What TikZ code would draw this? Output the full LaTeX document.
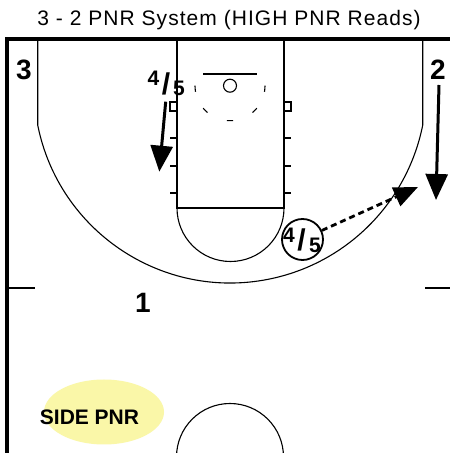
\documentclass[tikz,border=0pt]{standalone}
\usepackage{fontspec}
\setmainfont{Liberation Sans}
\newfontfamily\titlefont[LetterSpace=5]{Liberation Sans}
\usetikzlibrary{arrows.meta,shapes.geometric}
\definecolor{padyellow}{HTML}{FAF7A8}
\begin{document}
\begin{tikzpicture}[x=1pt,y=1pt,
  court/.style={line width=1.1pt},
  edge/.style={line width=3.6pt},
  player/.style={font=\fontsize{28}{28}\selectfont\bfseries, inner sep=0pt},
  small/.style={font=\fontsize{21}{21}\selectfont\bfseries, inner sep=0pt},
  slash/.style={font=\fontsize{30}{30}\selectfont\bfseries, inner sep=0pt},
  move/.style={line width=3pt, -{Triangle[length=26pt,width=22pt]}},
  screen/.style={line width=2.8pt, dash pattern=on 6pt off 4pt, -{Triangle[length=24pt,width=20pt]}},
]
\useasboundingbox (0,0) rectangle (450,453);
\clip (0,0) rectangle (450,453);
\fill[white] (0,0) rectangle (450,453);

% title
\node (title) at (229,433) {\titlefont\fontsize{21}{23}\selectfont 3 - 2 PNR System (HIGH PNR Reads)};

% court edges
\draw[edge, line join=miter] (7,0) -- (7,414) -- (450,414);

% three point line
\draw[court] (37.7,414) -- (37.7,328)
  arc[start angle=191.25, end angle=348.75, radius=196.3] -- (422.7,414);

% lane
\draw[court] (177,414) -- (177,245) -- (284,245) -- (284,414);
\draw[court] (177,245) arc[start angle=180, end angle=360, radius=53.5];
% lane blocks and ticks
\draw[court] (170,342) rectangle (177,351);
\draw[court] (284,342) rectangle (291,351);
\foreach \yy in {315,287,260} {
  \draw[court] (170,\yy) -- (177,\yy);
  \draw[court] (284,\yy) -- (291,\yy);
}
% backboard and basket
\draw[court] (203,379) -- (257,379);
\draw[court] (230,367.3) circle[radius=6.5];
% restricted area dashes
\foreach \a in {185,225,270,315,355} {
  \draw[court] (230,367.3) ++(\a-5:35) arc[start angle=\a-5, end angle=\a+5, radius=35];
}
% hash lines
\draw[court] (7,165) -- (35,165);
\draw[court] (425,165) -- (450,165);
% center circle
\draw[court] (230,-4) circle[radius=53.5];

% side pnr
\node[ellipse, fill=padyellow, minimum width=120pt, minimum height=65pt, inner sep=0pt] (pad) at (104,41) {};
\node[font=\fontsize{21}{21}\selectfont\bfseries, inner sep=0pt] (side) at (89.5,36) {SIDE PNR};

% players
\node[player] (p3) at (24,383) {3};
\node[player] (p2) at (438,383) {2};
\node[player] (p1) at (143,150) {1};

% 4/5 top
\node[small] (t4) at (153.5,375) {4};
\node[slash] (tslash) at (166,369) {/};
\node[small] (t5) at (179,365) {5};
\coordinate (a1s) at (165.7,351.3);
\coordinate (a1e) at (159.3,281.3);
\draw[move] (a1s) -- (a1e);

% 2 cut
\coordinate (a2s) at (439,368);
\coordinate (a2e) at (436,253);
\draw[move] (a2s) -- (a2e);

% 4/5 circle
\node[circle, draw, line width=1.8pt, minimum size=41pt, inner sep=0pt] (c45) at (302.5,213.5) {};
\node[small] (c4) at (289,218) {4};
\node[slash] (cslash) at (301.5,213) {/};
\node[small] (c5) at (315,208) {5};
\coordinate (a3e) at (418,266);
\draw[screen] (c45.25) -- (a3e);
\end{tikzpicture}
\end{document}
